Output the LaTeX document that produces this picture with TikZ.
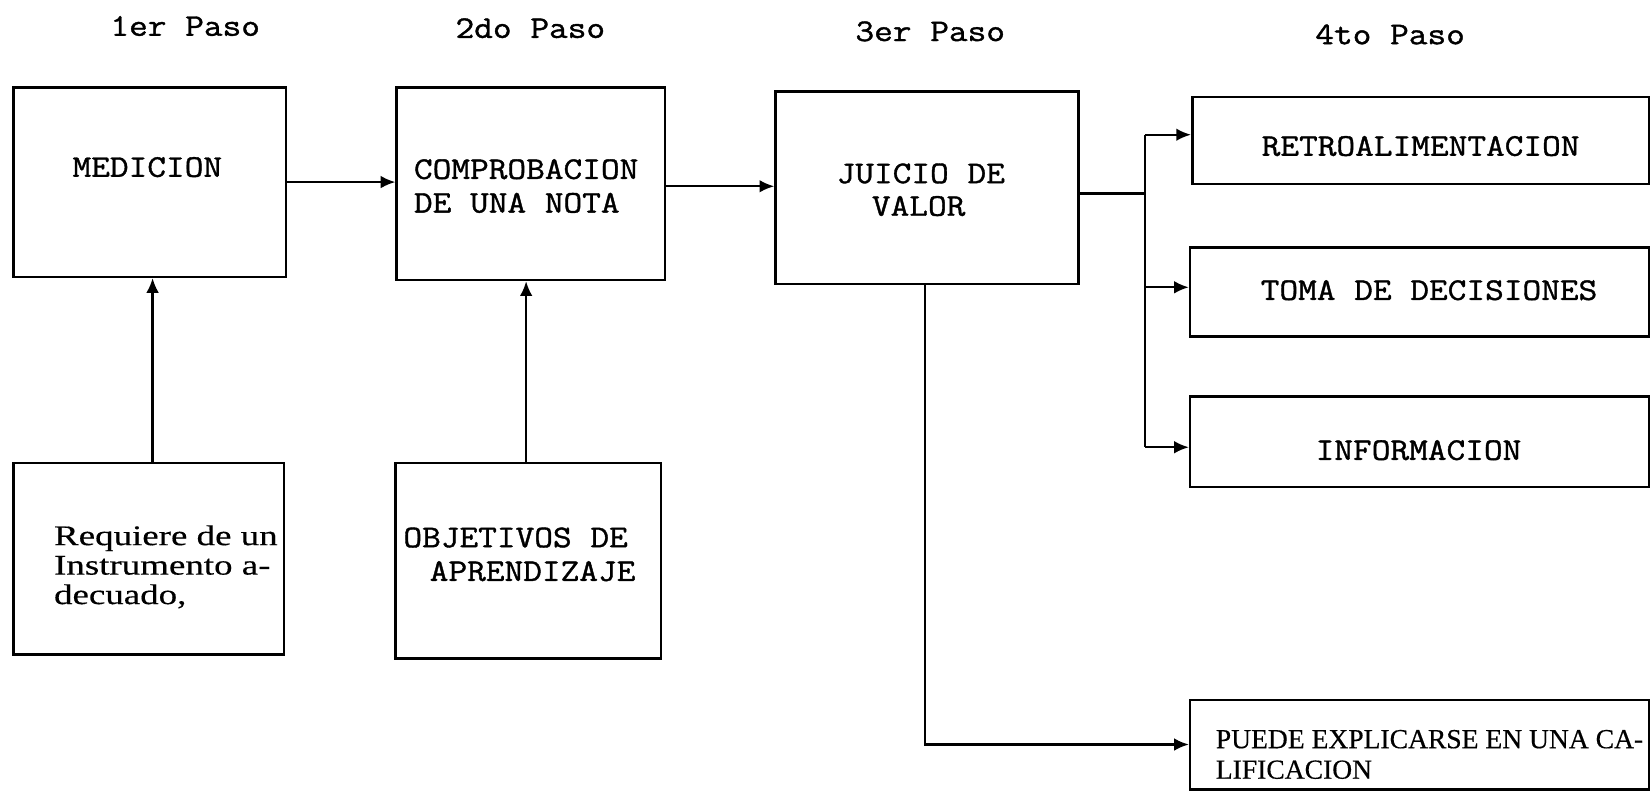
\documentclass[tikz,border=0pt]{standalone}
\usepackage{fontspec}
\setmonofont{Latin Modern Mono}[FakeStretch=1.15, FakeBold=1.2]
\newfontfamily\wideserif[FakeStretch=1.3, FakeBold=0.4]{Liberation Serif}
\newfontfamily\plainserif[FakeBold=0.4]{Liberation Serif}
\usetikzlibrary{arrows.meta,fit}
\begin{document}
\begin{tikzpicture}[x=0.5pt,y=-0.5pt,
  box/.style={draw, line width=1.2pt, inner sep=0pt, fit={#1}},
  mono/.style={font=\ttfamily\fontsize{15pt}{16pt}\selectfont, inner sep=0pt},
  ser/.style={font=\wideserif\fontsize{13.5pt}{14pt}\selectfont, inner sep=0pt},
  cser/.style={font=\plainserif\fontsize{13.1pt}{14pt}\selectfont, inner sep=0pt},
  conn/.style={line width=1.1pt},
  arr/.style={conn, -{Latex[length=7pt,width=6pt]}}]
\useasboundingbox (0,0) rectangle (1568,752);
\fill[white] (0,0) rectangle (1568,752);

% step titles
\node[mono, anchor=base] (p1) at (176,34) {1er Paso};
\node[mono, anchor=base] (p2) at (504,36) {2do Paso};
\node[mono, anchor=base] (p3) at (884,39) {3er Paso};
\node[mono, anchor=base] (p4) at (1321,42) {4to Paso};

% boxes
\node[box={(13,83) (272,263)}] (med) {};
\node[box={(377,83) (632,266)}] (comp) {};
\node[box={(737,87) (1025,270)}] (juicio) {};
\node[box={(1133,92) (1567,175)}] (retro) {};
\node[box={(1131,235) (1567,320)}] (toma) {};
\node[box={(1131,377) (1567,463)}] (info) {};
\node[box={(1131,665) (1567,750)}] (puede) {};
\node[box={(13,440) (270,622)}] (req) {};
\node[box={(376,440) (628,626)}] (obj) {};

% texts
\node[mono, anchor=base] (tmed) at (140,168) {MEDICION};
\node[mono, anchor=base west] (tcomp1) at (393,170) {COMPROBACION};
\node[mono, anchor=base west] (tcomp2) at (393,202) {DE UNA NOTA};
\node[mono, anchor=base] (tju1) at (875,174) {JUICIO DE};
\node[mono, anchor=base] (tju2) at (873,205) {VALOR};
\node[mono, anchor=base] (tretro) at (1350,148) {RETROALIMENTACION};
\node[mono, anchor=base] (ttoma) at (1358,285) {TOMA DE DECISIONES};
\node[mono, anchor=base] (tinfo) at (1348,437) {INFORMACION};
\node[mono, anchor=base west] (tobj1) at (383,520) {OBJETIVOS DE};
\node[mono, anchor=base west] (tobj2) at (408,552) {APRENDIZAJE};
\node[ser, anchor=base west] (treq1) at (51,518) {Requiere de un};
\node[ser, anchor=base west] (treq2) at (51,546) {Instrumento a-};
\node[ser, anchor=base west] (treq3) at (51,574) {decuado,};
\node[cser, anchor=base west] (tpu1) at (1155,711) {PUEDE EXPLICARSE EN UNA CA-};
\node[cser, anchor=base west] (tpu2) at (1155,740) {LIFICACION};

% connectors
\coordinate (br) at (1088,184);
\coordinate (jb) at (879,270);
\draw[arr] (med.east) -- (med.east -| comp.west);
\draw[arr] (comp.east |- 0,177) -- (juicio.west |- 0,177);
\draw[arr] (req.north -| 145,0) -- (med.south -| 145,0);
\draw[arr] (obj.north -| 500,0) -- (comp.south -| 500,0);
\draw[conn] (juicio.east |- br) -- (br);
\draw[conn] (br |- 0,128) -- (br |- 0,425);
\draw[arr] (br |- 0,128) -- (retro.west |- 0,128);
\draw[arr] (br |- 0,273) -- (toma.west |- 0,273);
\draw[arr] (br |- 0,425) -- (info.west |- 0,425);
\draw[arr] (jb) |- (puede.west);
\end{tikzpicture}
\end{document}
